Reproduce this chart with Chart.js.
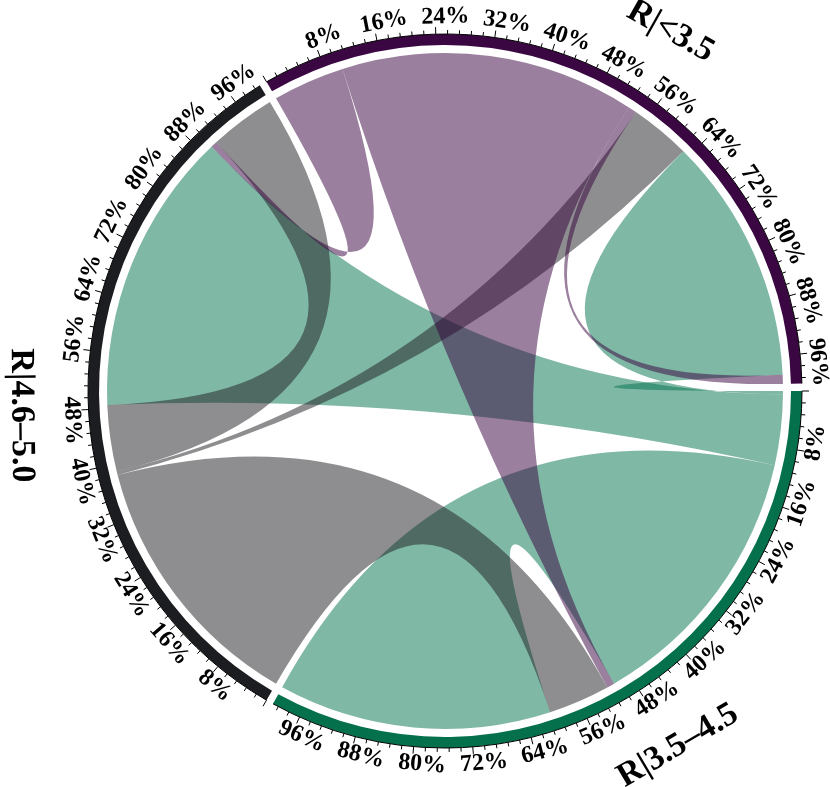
<!DOCTYPE html>
<html><head><meta charset="utf-8">
<script src="https://cdn.jsdelivr.net/npm/chart.js@4.4.0/dist/chart.umd.min.js"></script>
<style>html,body{margin:0;padding:0;background:#fff}#wrap{width:830px;height:787px}</style>
</head><body><div id="wrap"><canvas id="c" width="830" height="787"></canvas></div>
<script>
// ---- data ----
const sectors = ['R|<3.5', 'R|3.5\u20134.5', 'R|4.6\u20135.0'];
const sectorTotals = [100, 100, 100];
// links (percent positions along each sector axis)
const linkFrom  = [1, 1, 1, 2, 2, 2, 0, 0, 0];
const linkTo    = [0, 2, 1, 0, 1, 2, 2, 1, 0];
const fromStart = [0, 0.5, 10.7, 38.4, 0, 38.9, 0, 10.4, 98.7];
const fromEnd   = [0.5, 10.7, 50.5, 38.9, 38.4, 48.5, 10.4, 53.0, 100];
const toStart   = [63.0, 48.5, 60.5, 54.2, 51.6, 90.4, 89.5, 50.5, 53.0];
const toEnd     = [98.7, 89.5, 100, 63.0, 60.5, 100, 90.4, 51.6, 54.2];
const tickValues = [8, 16, 24, 32, 40, 48, 56, 64, 72, 80, 88, 96];
const tickLabels = ['8%', '16%', '24%', '32%', '40%', '48%', '56%', '64%', '72%', '80%', '88%', '96%'];

// ---- styles ----
const sectorColors = ['#3A0743', '#05704C', '#1C1D21'];
const ribbonColors = ['rgba(55,0,61,0.5)', 'rgba(1,113,77,0.5)', 'rgba(29,29,33,0.5)'];
const GAP = 1.0101;

const ringData = [], ringColors = [];
sectors.forEach((s, i) => {
  ringData.push(sectorTotals[i]); ringColors.push(sectorColors[i]);
  ringData.push(GAP); ringColors.push('rgba(0,0,0,0)');
});

function geom(chart) {
  const meta = chart.getDatasetMeta(0);
  return sectors.map((s, i) => {
    const a = meta.data[i * 2];
    return {start: a.startAngle, end: a.endAngle, inner: a.innerRadius, outer: a.outerRadius, x: a.x, y: a.y};
  });
}
function angOf(g, p, total) { return g.start + (g.end - g.start) * p / total; }

const chordPlugin = {
  id: 'chord',
  beforeDatasetsDraw(chart) {
    const ctx = chart.ctx, G = geom(chart);
    const cx = G[0].x, cy = G[0].y, r = G[0].inner - 8;
    for (let i = 0; i < linkFrom.length; i++) {
      const gf = G[linkFrom[i]], gt = G[linkTo[i]];
      const a1 = angOf(gf, fromStart[i], sectorTotals[linkFrom[i]]);
      const a2 = angOf(gf, fromEnd[i], sectorTotals[linkFrom[i]]);
      const b1 = angOf(gt, toStart[i], sectorTotals[linkTo[i]]);
      const b2 = angOf(gt, toEnd[i], sectorTotals[linkTo[i]]);
      ctx.save();
      ctx.beginPath();
      ctx.moveTo(cx + r * Math.cos(a1), cy + r * Math.sin(a1));
      ctx.arc(cx, cy, r, a1, a2, false);
      ctx.quadraticCurveTo(cx, cy, cx + r * Math.cos(b1), cy + r * Math.sin(b1));
      ctx.arc(cx, cy, r, b1, b2, false);
      ctx.quadraticCurveTo(cx, cy, cx + r * Math.cos(a1), cy + r * Math.sin(a1));
      ctx.closePath();
      ctx.fillStyle = ribbonColors[linkFrom[i]];
      ctx.fill();
      ctx.restore();
    }
  },
  afterDatasetsDraw(chart) {
    const ctx = chart.ctx, G = geom(chart);
    ctx.save();
    ctx.strokeStyle = '#000';
    ctx.fillStyle = '#000';
    G.forEach((g, si) => {
      const total = sectorTotals[si];
      const R = g.outer;
      ctx.lineWidth = 1;
      ctx.beginPath();
      ctx.arc(g.x, g.y, R, g.start, g.end, false);
      ctx.stroke();
      for (let k = 0; k * 1.6 <= total + 1e-6; k++) {
        const p = k * 1.6;
        const a = angOf(g, p, total);
        const len = (k % 5 === 0) ? 7 : 4;
        ctx.beginPath();
        ctx.moveTo(g.x + R * Math.cos(a), g.y + R * Math.sin(a));
        ctx.lineTo(g.x + (R + len) * Math.cos(a), g.y + (R + len) * Math.sin(a));
        ctx.stroke();
      }
      const putText = (txt, a, rad, shift, font) => {
        let deg = (a * 180 / Math.PI + 90) % 360; if (deg < 0) deg += 360;
        const flipped = deg > 90 && deg < 270;
        const rot = flipped ? a - Math.PI / 2 : a + Math.PI / 2;
        ctx.save();
        ctx.translate(g.x + rad * Math.cos(a), g.y + rad * Math.sin(a));
        ctx.rotate(rot);
        ctx.font = font;
        ctx.textAlign = 'center';
        ctx.textBaseline = 'middle';
        ctx.fillText(txt, shift, 0);
        ctx.restore();
      };
      tickValues.forEach((v, j) => {
        putText(tickLabels[j], angOf(g, v, total), R + 17, 10, 'bold 24px "Liberation Serif"');
      });
      putText(sectors[si], (g.start + g.end) / 2, R + 67, 20, 'bold 34px "Liberation Serif"');
    });
    ctx.restore();
  }
};

new Chart(document.getElementById('c'), {
  type: 'doughnut',
  data: {
    labels: sectors.flatMap(s => [s, '']),
    datasets: [{data: ringData, backgroundColor: ringColors, borderWidth: 0, hoverOffset: 0}]
  },
  options: {
    responsive: false,
    devicePixelRatio: 1,
    animation: false,
    events: [],
    rotation: 330,
    cutout: 346,
    layout: {padding: {left: 88, right: 28, top: 34, bottom: 39}},
    plugins: {legend: {display: false}, tooltip: {enabled: false}, title: {display: false}}
  },
  plugins: [chordPlugin]
});
</script>
</body></html>
